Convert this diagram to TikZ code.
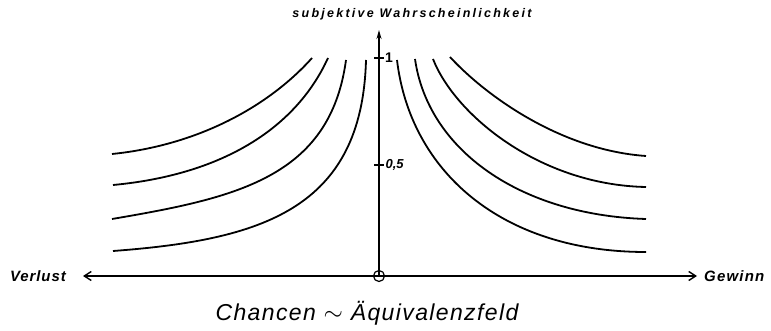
\documentclass[tikz,border=0pt]{standalone}
\usepackage{fontspec}
\setmainfont{Liberation Sans}
\usetikzlibrary{arrows.meta,positioning}

\begin{document}
\begin{tikzpicture}[
    x=1pt, y=-1pt,
    axis/.style={line width=1.3pt, -{Straight Barb[length=7pt, width=9pt, line width=1.4pt]}},
    yaxis/.style={line width=1.3pt, -{Stealth[length=9pt, width=5pt]}},
    curve/.style={line width=1.8pt},
    lbl/.style={font=\itshape, inner sep=1pt},
    tick/.style={line width=1.2pt}
]
  \useasboundingbox (0,0) rectangle (771,331);

  % axes
  \coordinate (origin) at (379,276);
  \coordinate (ytop) at (379,30);
  \node[lbl, anchor=east, font=\bfseries\itshape\fontsize{15}{17}\selectfont\addfontfeature{LetterSpace=6}] (loss) at (67,276) {Verlust};
  \node[lbl, anchor=west, font=\bfseries\itshape\fontsize{15}{17}\selectfont\addfontfeature{LetterSpace=8}] (gain) at (703,276) {Gewinn};
  \node[lbl, font=\bfseries\itshape\fontsize{12.5}{14}\selectfont\addfontfeature{LetterSpace=18}] (prob) at (412,14) {subjektive Wahrscheinlichkeit};
  \node[lbl, font=\itshape\fontsize{23}{26}\selectfont\addfontfeature{LetterSpace=6}] (title) at (367,313) {Chancen $\sim$ Äquivalenzfeld};

  \draw[axis] (origin) -- (83,276);
  \draw[axis] (origin) -- (697,276);
  \draw[yaxis] (origin) -- (ytop);
  \draw[line width=1.2pt] (origin) circle (5.5);

  % ticks
  \draw[tick] (374,58) -- (384,58) node[right, lbl, inner sep=0.5pt, font=\bfseries\fontsize{14}{15}\selectfont] (one) {1};
  \draw[tick] (374,165) -- (384,165) node[right, lbl, inner sep=1pt, font=\bfseries\itshape\fontsize{13}{14}\selectfont] (half) {0,5};

  % left curves
  \draw[curve] (112,154) .. controls (200,145) and (270,105) .. (312,58);
  \draw[curve] (113,185) .. controls (220,175) and (295,130) .. (328,58);
  \draw[curve] (112,219) .. controls (235,198) and (330,178) .. (346,60);
  \draw[curve] (113,251) .. controls (260,240) and (362,210) .. (366,60);

  % right curves
  \draw[curve] (397,60) .. controls (410,170) and (500,252) .. (646,252);
  \draw[curve] (415,59) .. controls (428,150) and (520,215) .. (646,219);
  \draw[curve] (433,59) .. controls (455,115) and (540,185) .. (646,187);
  \draw[curve] (450,57) .. controls (485,95) and (560,150) .. (646,156);
\end{tikzpicture}
\end{document}
